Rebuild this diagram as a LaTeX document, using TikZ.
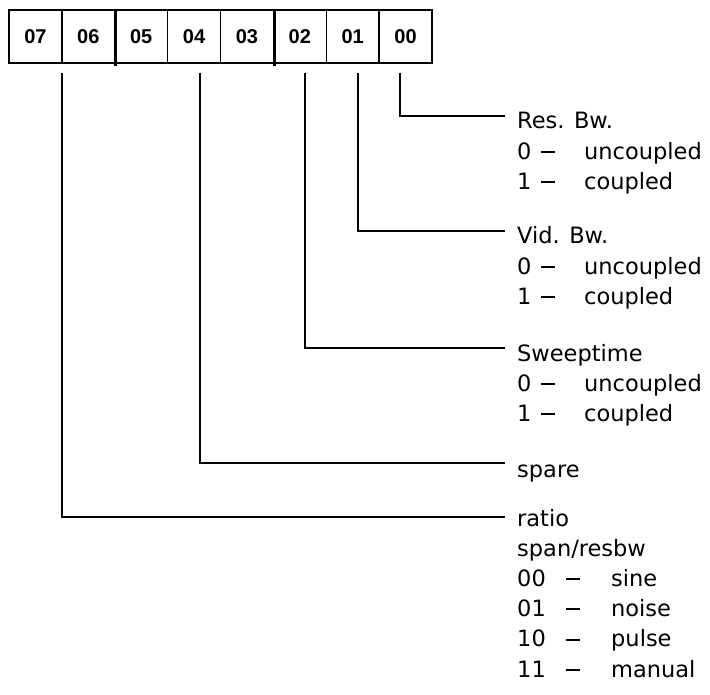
\documentclass[tikz,border=0pt]{standalone}
\usepackage{fontspec}
\setmainfont{DejaVu Sans}
\newfontfamily\bitfont{Liberation Sans}
\usetikzlibrary{positioning,calc}

\newcommand{\optdash}{\rule[6.2pt]{14pt}{2pt}}
\newcommand{\flagopt}[2]{\makebox[24pt][l]{#1}\makebox[43pt][l]{\optdash}#2}
\newcommand{\modeopt}[2]{\makebox[49pt][l]{#1}\makebox[45pt][l]{\optdash}#2}

\begin{document}
\begin{tikzpicture}[x=1pt, y=-1pt,
  bitbox/.style={draw, line width=1.5pt, minimum width=52.9pt, minimum height=53pt,
                 inner sep=0pt, font=\bitfont\bfseries\fontsize{20}{20}\selectfont},
  field/.style={anchor=base west, inner sep=0pt,
                font=\fontsize{22.5}{30.2}\selectfont},
  wire/.style={line width=1.8pt}]
  \useasboundingbox (0,0) rectangle (710,695);

  \foreach \bit [count=\i from 0] in {07,06,05,04,03,02,01,00}
    \node[bitbox] (b\bit) at (35.45+52.875*\i, 36.5) {\bit};

  \draw[line width=3.2pt] (b06.north east) -- ([yshift=-2pt]b06.south east);
  \draw[line width=3.2pt] (b03.north east) -- ([yshift=-2pt]b03.south east);

  \node[field] (lres) at (517, 129)
       {\begin{tabular}[t]{@{}l@{}}Res. Bw.\\ \flagopt{0}{uncoupled}\\ \flagopt{1}{coupled}\end{tabular}};
  \node[field] (lvid) at (517, 244)
       {\begin{tabular}[t]{@{}l@{}}Vid. Bw.\\ \flagopt{0}{uncoupled}\\ \flagopt{1}{coupled}\end{tabular}};
  \node[field] (lsweep) at (517, 361)
       {\begin{tabular}[t]{@{}l@{}}Sweeptime\\ \flagopt{0}{uncoupled}\\ \flagopt{1}{coupled}\end{tabular}};
  \node[field] (lspare) at (517, 477) {spare};
  \node[field] (lratio) at (517, 526)
       {\begin{tabular}[t]{@{}l@{}}ratio\\ span/resbw\\ \modeopt{00}{sine}\\ \modeopt{01}{noise}\\
        \modeopt{10}{pulse}\\ \modeopt{11}{manual}\end{tabular}};

  \draw[wire] ([xshift=-5.7pt, yshift=-9pt]b00.south) |- ([xshift=-12pt, yshift=13pt]lres.base west);
  \draw[wire] ([xshift=5.2pt, yshift=-9pt]b01.south) |- ([xshift=-12pt, yshift=13pt]lvid.base west);
  \draw[wire] ([xshift=5.1pt, yshift=-9pt]b02.south) |- ([xshift=-12pt, yshift=13pt]lsweep.base west);
  \draw[wire] ([xshift=5.9pt, yshift=-9pt]b04.south) |- ([xshift=-12pt, yshift=14pt]lspare.base west);
  \draw[wire] ([xshift=0.5pt, yshift=-9pt]b06.south west) |- ([xshift=-12pt, yshift=9pt]lratio.base west);
\end{tikzpicture}
\end{document}
